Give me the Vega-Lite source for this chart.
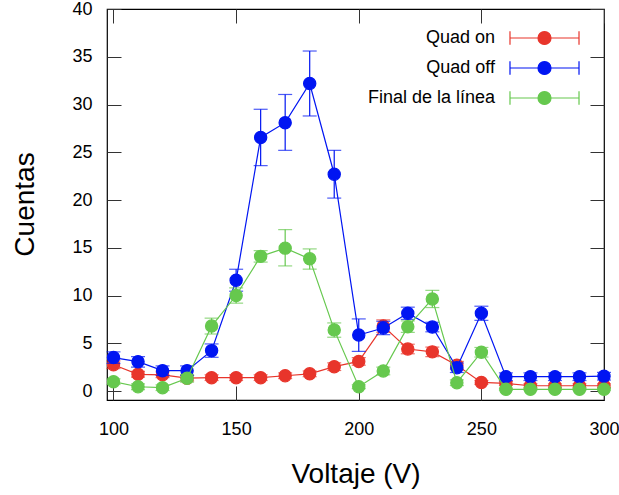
{
  "$schema": "https://vega.github.io/schema/vega-lite/v6.json",
  "width": 497,
  "height": 391,
  "autosize": "none",
  "padding": {"left": 107, "top": 9, "right": 15, "bottom": 95},
  "background": "white",
  "config": {
    "font": "Liberation Sans",
    "view": {"stroke": "#000", "strokeWidth": 1.2},
    "axis": {"grid": false, "domain": false, "tickColor": "#333", "tickWidth": 1, "labelColor": "#000", "titleColor": "#000", "labelFontSize": 18, "titleFontSize": 28, "titleFontWeight": "normal", "labelFont": "Liberation Sans", "titleFont": "Liberation Sans", "labelFlush": false}
  },
  "datasets": {
    "d": [
      {"V": 100, "s": "Quad on", "y": 2.75, "lo": 2.35, "hi": 3.15},
      {"V": 110, "s": "Quad on", "y": 1.75, "lo": 1.45, "hi": 2.05},
      {"V": 120, "s": "Quad on", "y": 1.7, "lo": 1.4, "hi": 2.0},
      {"V": 130, "s": "Quad on", "y": 1.35, "lo": 1.05, "hi": 1.65},
      {"V": 140, "s": "Quad on", "y": 1.4, "lo": 1.1, "hi": 1.7},
      {"V": 150, "s": "Quad on", "y": 1.4, "lo": 1.1, "hi": 1.7},
      {"V": 160, "s": "Quad on", "y": 1.4, "lo": 1.1, "hi": 1.7},
      {"V": 170, "s": "Quad on", "y": 1.6, "lo": 1.3, "hi": 1.9},
      {"V": 180, "s": "Quad on", "y": 1.8, "lo": 1.5, "hi": 2.1},
      {"V": 190, "s": "Quad on", "y": 2.55, "lo": 2.15, "hi": 2.95},
      {"V": 200, "s": "Quad on", "y": 3.1, "lo": 2.7, "hi": 3.5},
      {"V": 210, "s": "Quad on", "y": 6.8, "lo": 6.15, "hi": 7.45},
      {"V": 220, "s": "Quad on", "y": 4.4, "lo": 3.9, "hi": 4.9},
      {"V": 230, "s": "Quad on", "y": 4.1, "lo": 3.6, "hi": 4.6},
      {"V": 240, "s": "Quad on", "y": 2.7, "lo": 2.3, "hi": 3.1},
      {"V": 250, "s": "Quad on", "y": 0.9, "lo": 0.7, "hi": 1.1},
      {"V": 260, "s": "Quad on", "y": 0.8, "lo": 0.6, "hi": 1.0},
      {"V": 270, "s": "Quad on", "y": 0.55, "lo": 0.35, "hi": 0.75},
      {"V": 280, "s": "Quad on", "y": 0.55, "lo": 0.35, "hi": 0.75},
      {"V": 290, "s": "Quad on", "y": 0.55, "lo": 0.35, "hi": 0.75},
      {"V": 300, "s": "Quad on", "y": 0.55, "lo": 0.35, "hi": 0.75},
      {"V": 100, "s": "Quad off", "y": 3.5, "lo": 2.9, "hi": 4.1},
      {"V": 110, "s": "Quad off", "y": 3.07, "lo": 2.5, "hi": 3.6},
      {"V": 120, "s": "Quad off", "y": 2.13, "lo": 1.63, "hi": 2.63},
      {"V": 130, "s": "Quad off", "y": 2.13, "lo": 1.63, "hi": 2.63},
      {"V": 140, "s": "Quad off", "y": 4.23, "lo": 3.53, "hi": 4.93},
      {"V": 150, "s": "Quad off", "y": 11.6, "lo": 10.45, "hi": 12.75},
      {"V": 160, "s": "Quad off", "y": 26.55, "lo": 23.6, "hi": 29.5},
      {"V": 170, "s": "Quad off", "y": 28.1, "lo": 25.2, "hi": 31.05},
      {"V": 180, "s": "Quad off", "y": 32.2, "lo": 28.8, "hi": 35.6},
      {"V": 190, "s": "Quad off", "y": 22.7, "lo": 20.2, "hi": 25.2},
      {"V": 200, "s": "Quad off", "y": 5.87, "lo": 4.15, "hi": 7.55},
      {"V": 210, "s": "Quad off", "y": 6.6, "lo": 5.9, "hi": 7.3},
      {"V": 220, "s": "Quad off", "y": 8.14, "lo": 7.5, "hi": 8.78},
      {"V": 230, "s": "Quad off", "y": 6.7, "lo": 6.2, "hi": 7.2},
      {"V": 240, "s": "Quad off", "y": 2.44, "lo": 1.94, "hi": 2.94},
      {"V": 250, "s": "Quad off", "y": 8.14, "lo": 7.4, "hi": 8.88},
      {"V": 260, "s": "Quad off", "y": 1.5, "lo": 1.1, "hi": 1.9},
      {"V": 270, "s": "Quad off", "y": 1.5, "lo": 1.1, "hi": 1.9},
      {"V": 280, "s": "Quad off", "y": 1.5, "lo": 1.1, "hi": 1.9},
      {"V": 290, "s": "Quad off", "y": 1.5, "lo": 1.1, "hi": 1.9},
      {"V": 300, "s": "Quad off", "y": 1.55, "lo": 1.15, "hi": 1.95},
      {"V": 100, "s": "Final de la línea", "y": 0.98, "lo": 0.68, "hi": 1.28},
      {"V": 110, "s": "Final de la línea", "y": 0.45, "lo": 0.15, "hi": 0.75},
      {"V": 120, "s": "Final de la línea", "y": 0.35, "lo": 0.05, "hi": 0.65},
      {"V": 130, "s": "Final de la línea", "y": 1.33, "lo": 0.93, "hi": 1.73},
      {"V": 140, "s": "Final de la línea", "y": 6.8, "lo": 5.97, "hi": 7.63},
      {"V": 150, "s": "Final de la línea", "y": 10.0, "lo": 9.2, "hi": 10.8},
      {"V": 160, "s": "Final de la línea", "y": 14.1, "lo": 13.5, "hi": 14.7},
      {"V": 170, "s": "Final de la línea", "y": 14.96, "lo": 13.1, "hi": 16.9},
      {"V": 180, "s": "Final de la línea", "y": 13.84, "lo": 12.76, "hi": 14.88},
      {"V": 190, "s": "Final de la línea", "y": 6.4, "lo": 5.63, "hi": 7.13},
      {"V": 200, "s": "Final de la línea", "y": 0.45, "lo": 0.25, "hi": 0.65},
      {"V": 210, "s": "Final de la línea", "y": 2.1, "lo": 1.7, "hi": 2.5},
      {"V": 220, "s": "Final de la línea", "y": 6.74, "lo": 6.14, "hi": 7.34},
      {"V": 230, "s": "Final de la línea", "y": 9.64, "lo": 8.74, "hi": 10.54},
      {"V": 240, "s": "Final de la línea", "y": 0.87, "lo": 0.57, "hi": 1.17},
      {"V": 250, "s": "Final de la línea", "y": 4.06, "lo": 3.56, "hi": 4.56},
      {"V": 260, "s": "Final de la línea", "y": 0.18, "lo": 0.08, "hi": 0.28},
      {"V": 270, "s": "Final de la línea", "y": 0.18, "lo": 0.08, "hi": 0.28},
      {"V": 280, "s": "Final de la línea", "y": 0.18, "lo": 0.08, "hi": 0.28},
      {"V": 290, "s": "Final de la línea", "y": 0.18, "lo": 0.08, "hi": 0.28},
      {"V": 300, "s": "Final de la línea", "y": 0.18, "lo": 0.08, "hi": 0.28}
    ]
  },
  "data": {"name": "d"},
  "resolve": {"axis": {"x": "independent", "y": "independent"}},
  "layer": [
    {
      "transform": [{"filter": "datum.s === 'Quad on'"}],
      "mark": {"type": "line", "color": "#e8352b", "strokeWidth": 1.2},
      "encoding": {
        "x": {"field": "V", "type": "quantitative", "scale": {"domain": [97.35, 300], "nice": false, "zero": false},
          "axis": {"orient": "bottom", "values": [100, 150, 200, 250, 300], "tickSize": -14, "labelPadding": 34, "title": "Voltaje (V)", "titleY": 82, "titleBaseline": "alphabetic"}},
        "y": {"field": "y", "type": "quantitative", "scale": {"domain": [-0.94, 40], "nice": false, "zero": false},
          "axis": {"orient": "left", "values": [0, 5, 10, 15, 20, 25, 30, 35, 40], "tickSize": -14, "labelPadding": 29, "title": "Cuentas", "titleX": -74, "titleY": 195, "titleAngle": -90, "titleBaseline": "alphabetic", "titleAlign": "center"}}
      }
    },
    {
      "transform": [{"filter": "datum.s === 'Quad on'"}],
      "mark": {"type": "rule", "color": "#e8352b", "strokeWidth": 1.2},
      "encoding": {
        "x": {"field": "V", "type": "quantitative", "axis": {"orient": "top", "values": [100, 150, 200, 250, 300], "tickSize": -14, "labels": false, "title": null}},
        "y": {"field": "lo", "type": "quantitative", "axis": {"orient": "right", "values": [0, 5, 10, 15, 20, 25, 30, 35, 40], "tickSize": -14, "labels": false, "title": null}},
        "y2": {"field": "hi"}
      }
    },
    {
      "transform": [{"filter": "datum.s === 'Quad on'"}],
      "mark": {"type": "tick", "orient": "horizontal", "color": "#e8352b", "size": 14, "thickness": 1.2},
      "encoding": {"x": {"field": "V", "type": "quantitative", "axis": null}, "y": {"field": "lo", "type": "quantitative", "axis": null}}
    },
    {
      "transform": [{"filter": "datum.s === 'Quad on'"}],
      "mark": {"type": "tick", "orient": "horizontal", "color": "#e8352b", "size": 14, "thickness": 1.2},
      "encoding": {"x": {"field": "V", "type": "quantitative", "axis": null}, "y": {"field": "hi", "type": "quantitative", "axis": null}}
    },
    {
      "transform": [{"filter": "datum.s === 'Quad on'"}],
      "mark": {"type": "point", "filled": true, "size": 150, "strokeWidth": 1.2, "opacity": 1},
      "encoding": {"x": {"field": "V", "type": "quantitative", "axis": null}, "y": {"field": "y", "type": "quantitative", "axis": null},
        "fill": {"field": "s", "type": "nominal", "scale": {"domain": ["Quad on", "Quad off", "Final de la línea"], "range": ["#e8352b", "#0015f2", "#66c84e"]},
          "legend": {"title": null, "orient": "none", "legendX": 428.5, "legendY": 20, "padding": 0, "labelFontSize": 18, "labelFont": "Liberation Sans", "labelColor": "#000", "labelAlign": "right", "labelOffset": -58.5, "rowPadding": 10, "symbolSize": 196, "symbolStrokeWidth": 1.2,
            "symbolType": "M-4.93,0H4.93M-4.93,-0.96V0.96M4.93,-0.96V0.96M-0.93,0A0.93,0.93,0,1,0,0.93,0A0.93,0.93,0,1,0,-0.93,0Z"}},
        "stroke": {"field": "s", "type": "nominal", "scale": {"domain": ["Quad on", "Quad off", "Final de la línea"], "range": ["#e8352b", "#0015f2", "#66c84e"]},
          "legend": {"title": null, "orient": "none", "legendX": 428.5, "legendY": 20, "padding": 0, "labelFontSize": 18, "labelFont": "Liberation Sans", "labelColor": "#000", "labelAlign": "right", "labelOffset": -58.5, "rowPadding": 10, "symbolSize": 196, "symbolStrokeWidth": 1.2,
            "symbolType": "M-4.93,0H4.93M-4.93,-0.96V0.96M4.93,-0.96V0.96M-0.93,0A0.93,0.93,0,1,0,0.93,0A0.93,0.93,0,1,0,-0.93,0Z"}}
      }
    },
    {
      "transform": [{"filter": "datum.s === 'Quad off'"}],
      "mark": {"type": "line", "color": "#0015f2", "strokeWidth": 1.2},
      "encoding": {"x": {"field": "V", "type": "quantitative", "axis": null}, "y": {"field": "y", "type": "quantitative", "axis": null}}
    },
    {
      "transform": [{"filter": "datum.s === 'Quad off'"}],
      "mark": {"type": "rule", "color": "#0015f2", "strokeWidth": 1.2},
      "encoding": {"x": {"field": "V", "type": "quantitative", "axis": null}, "y": {"field": "lo", "type": "quantitative", "axis": null}, "y2": {"field": "hi"}}
    },
    {
      "transform": [{"filter": "datum.s === 'Quad off'"}],
      "mark": {"type": "tick", "orient": "horizontal", "color": "#0015f2", "size": 14, "thickness": 1.2},
      "encoding": {"x": {"field": "V", "type": "quantitative", "axis": null}, "y": {"field": "lo", "type": "quantitative", "axis": null}}
    },
    {
      "transform": [{"filter": "datum.s === 'Quad off'"}],
      "mark": {"type": "tick", "orient": "horizontal", "color": "#0015f2", "size": 14, "thickness": 1.2},
      "encoding": {"x": {"field": "V", "type": "quantitative", "axis": null}, "y": {"field": "hi", "type": "quantitative", "axis": null}}
    },
    {
      "transform": [{"filter": "datum.s === 'Quad off'"}],
      "mark": {"type": "point", "filled": true, "size": 150, "strokeWidth": 1.2, "opacity": 1},
      "encoding": {"x": {"field": "V", "type": "quantitative", "axis": null}, "y": {"field": "y", "type": "quantitative", "axis": null},
        "fill": {"field": "s", "type": "nominal"}, "stroke": {"field": "s", "type": "nominal"}}
    },
    {
      "transform": [{"filter": "datum.s === 'Final de la línea'"}],
      "mark": {"type": "line", "color": "#66c84e", "strokeWidth": 1.2},
      "encoding": {"x": {"field": "V", "type": "quantitative", "axis": null}, "y": {"field": "y", "type": "quantitative", "axis": null}}
    },
    {
      "transform": [{"filter": "datum.s === 'Final de la línea'"}],
      "mark": {"type": "rule", "color": "#66c84e", "strokeWidth": 1.2},
      "encoding": {"x": {"field": "V", "type": "quantitative", "axis": null}, "y": {"field": "lo", "type": "quantitative", "axis": null}, "y2": {"field": "hi"}}
    },
    {
      "transform": [{"filter": "datum.s === 'Final de la línea'"}],
      "mark": {"type": "tick", "orient": "horizontal", "color": "#66c84e", "size": 14, "thickness": 1.2},
      "encoding": {"x": {"field": "V", "type": "quantitative", "axis": null}, "y": {"field": "lo", "type": "quantitative", "axis": null}}
    },
    {
      "transform": [{"filter": "datum.s === 'Final de la línea'"}],
      "mark": {"type": "tick", "orient": "horizontal", "color": "#66c84e", "size": 14, "thickness": 1.2},
      "encoding": {"x": {"field": "V", "type": "quantitative", "axis": null}, "y": {"field": "hi", "type": "quantitative", "axis": null}}
    },
    {
      "transform": [{"filter": "datum.s === 'Final de la línea'"}],
      "mark": {"type": "point", "filled": true, "size": 150, "strokeWidth": 1.2, "opacity": 1},
      "encoding": {"x": {"field": "V", "type": "quantitative", "axis": null}, "y": {"field": "y", "type": "quantitative", "axis": null},
        "fill": {"field": "s", "type": "nominal"}, "stroke": {"field": "s", "type": "nominal"}}
    }
  ]
}
